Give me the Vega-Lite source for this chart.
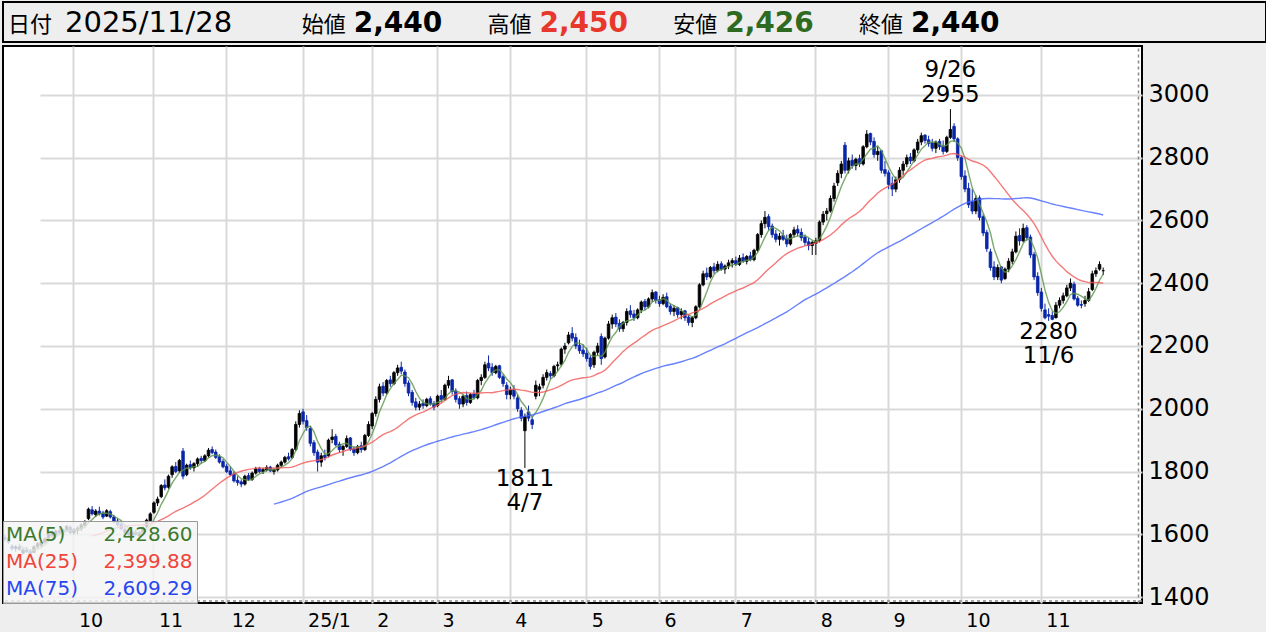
{
"$schema": "https://vega.github.io/schema/vega-lite/v6.json",
"background": "#eeeeee",
"padding": {"left": 1, "top": 1, "right": 2, "bottom": 5},
"spacing": 2,
"resolve": {"scale": {"color": "independent"}, "legend": {"color": "independent"}},
"config": {"view": {"stroke": null}, "font": "DejaVu Sans"},
"datasets": {
"hdr": [
{"k":"date","lab":"日付","val":"2025/11/28"},
{"k":"open","lab":"始値","val":"2,440"},
{"k":"high","lab":"高値","val":"2,450"},
{"k":"low","lab":"安値","val":"2,426"},
{"k":"close","lab":"終値","val":"2,440"}
],
"hi": [{"d":"2025-09-26","v":2955,"t":"9/26\n2955"}],
"lo": [{"d":"2025-04-07","v":1811,"t":"1811\n4/7"},{"d":"2025-11-06","v":2280,"t":"2280\n11/6"}],
"px": [
{"d":"2024-09-02","o":1590,"h":1600,"l":1578,"c":1585},
{"d":"2024-09-03","o":1585,"h":1592,"l":1570,"c":1575},
{"d":"2024-09-04","o":1562,"h":1568,"l":1548,"c":1555},
{"d":"2024-09-05","o":1555,"h":1565,"l":1545,"c":1560},
{"d":"2024-09-06","o":1560,"h":1570,"l":1548,"c":1552},
{"d":"2024-09-09","o":1540,"h":1555,"l":1535,"c":1550},
{"d":"2024-09-10","o":1550,"h":1560,"l":1540,"c":1545},
{"d":"2024-09-11","o":1545,"h":1552,"l":1530,"c":1538},
{"d":"2024-09-12","o":1542,"h":1565,"l":1540,"c":1560},
{"d":"2024-09-13","o":1560,"h":1575,"l":1555,"c":1570},
{"d":"2024-09-17","o":1565,"h":1580,"l":1558,"c":1575},
{"d":"2024-09-18","o":1575,"h":1590,"l":1570,"c":1585},
{"d":"2024-09-19","o":1588,"h":1605,"l":1585,"c":1600},
{"d":"2024-09-20","o":1602,"h":1612,"l":1590,"c":1595},
{"d":"2024-09-24","o":1598,"h":1615,"l":1595,"c":1610},
{"d":"2024-09-25","o":1612,"h":1622,"l":1600,"c":1605},
{"d":"2024-09-26","o":1605,"h":1618,"l":1598,"c":1614},
{"d":"2024-09-27","o":1615,"h":1630,"l":1608,"c":1625},
{"d":"2024-09-30","o":1622,"h":1628,"l":1600,"c":1605},
{"d":"2024-10-01","o":1605,"h":1620,"l":1598,"c":1615},
{"d":"2024-10-02","o":1612,"h":1625,"l":1600,"c":1620},
{"d":"2024-10-03","o":1617,"h":1635,"l":1610,"c":1630},
{"d":"2024-10-04","o":1628,"h":1645,"l":1622,"c":1640},
{"d":"2024-10-07","o":1650,"h":1685,"l":1645,"c":1680},
{"d":"2024-10-08","o":1678,"h":1690,"l":1660,"c":1665},
{"d":"2024-10-09","o":1662,"h":1680,"l":1655,"c":1674},
{"d":"2024-10-10","o":1674,"h":1688,"l":1660,"c":1665},
{"d":"2024-10-11","o":1668,"h":1675,"l":1648,"c":1655},
{"d":"2024-10-15","o":1658,"h":1680,"l":1655,"c":1675},
{"d":"2024-10-16","o":1672,"h":1678,"l":1650,"c":1655},
{"d":"2024-10-17","o":1655,"h":1662,"l":1635,"c":1640},
{"d":"2024-10-18","o":1642,"h":1650,"l":1625,"c":1630},
{"d":"2024-10-21","o":1632,"h":1640,"l":1612,"c":1618},
{"d":"2024-10-22","o":1616,"h":1625,"l":1600,"c":1605},
{"d":"2024-10-23","o":1607,"h":1615,"l":1590,"c":1598},
{"d":"2024-10-24","o":1596,"h":1610,"l":1588,"c":1606},
{"d":"2024-10-25","o":1607,"h":1615,"l":1595,"c":1600},
{"d":"2024-10-28","o":1595,"h":1610,"l":1585,"c":1605},
{"d":"2024-10-29","o":1604,"h":1625,"l":1600,"c":1620},
{"d":"2024-10-30","o":1624,"h":1650,"l":1620,"c":1645},
{"d":"2024-10-31","o":1644,"h":1670,"l":1640,"c":1665},
{"d":"2024-11-01","o":1670,"h":1705,"l":1665,"c":1700},
{"d":"2024-11-05","o":1700,"h":1720,"l":1690,"c":1712},
{"d":"2024-11-06","o":1720,"h":1760,"l":1715,"c":1755},
{"d":"2024-11-07","o":1757,"h":1775,"l":1740,"c":1748},
{"d":"2024-11-08","o":1750,"h":1790,"l":1745,"c":1785},
{"d":"2024-11-11","o":1790,"h":1820,"l":1780,"c":1815},
{"d":"2024-11-12","o":1816,"h":1830,"l":1795,"c":1800},
{"d":"2024-11-13","o":1802,"h":1840,"l":1795,"c":1835},
{"d":"2024-11-14","o":1865,"h":1875,"l":1775,"c":1785},
{"d":"2024-11-15","o":1790,"h":1825,"l":1785,"c":1820},
{"d":"2024-11-18","o":1822,"h":1835,"l":1805,"c":1812},
{"d":"2024-11-19","o":1812,"h":1830,"l":1800,"c":1825},
{"d":"2024-11-20","o":1825,"h":1845,"l":1815,"c":1840},
{"d":"2024-11-21","o":1842,"h":1850,"l":1825,"c":1835},
{"d":"2024-11-22","o":1835,"h":1855,"l":1830,"c":1850},
{"d":"2024-11-25","o":1850,"h":1875,"l":1845,"c":1868},
{"d":"2024-11-26","o":1870,"h":1880,"l":1855,"c":1860},
{"d":"2024-11-27","o":1862,"h":1870,"l":1840,"c":1845},
{"d":"2024-11-28","o":1847,"h":1855,"l":1825,"c":1830},
{"d":"2024-11-29","o":1832,"h":1840,"l":1810,"c":1815},
{"d":"2024-12-02","o":1817,"h":1825,"l":1795,"c":1800},
{"d":"2024-12-03","o":1802,"h":1815,"l":1785,"c":1790},
{"d":"2024-12-04","o":1792,"h":1800,"l":1765,"c":1770},
{"d":"2024-12-05","o":1772,"h":1785,"l":1755,"c":1765},
{"d":"2024-12-06","o":1767,"h":1775,"l":1750,"c":1760},
{"d":"2024-12-09","o":1760,"h":1790,"l":1755,"c":1785},
{"d":"2024-12-10","o":1787,"h":1795,"l":1770,"c":1775},
{"d":"2024-12-11","o":1775,"h":1800,"l":1770,"c":1795},
{"d":"2024-12-12","o":1795,"h":1815,"l":1790,"c":1808},
{"d":"2024-12-13","o":1810,"h":1815,"l":1795,"c":1800},
{"d":"2024-12-16","o":1800,"h":1812,"l":1792,"c":1806},
{"d":"2024-12-17","o":1805,"h":1820,"l":1800,"c":1813},
{"d":"2024-12-18","o":1814,"h":1818,"l":1798,"c":1802},
{"d":"2024-12-19","o":1800,"h":1810,"l":1790,"c":1806},
{"d":"2024-12-20","o":1805,"h":1825,"l":1800,"c":1820},
{"d":"2024-12-23","o":1820,"h":1835,"l":1812,"c":1830},
{"d":"2024-12-24","o":1830,"h":1850,"l":1825,"c":1845},
{"d":"2024-12-25","o":1847,"h":1860,"l":1835,"c":1840},
{"d":"2024-12-26","o":1845,"h":1875,"l":1840,"c":1870},
{"d":"2024-12-27","o":1870,"h":1960,"l":1865,"c":1950},
{"d":"2024-12-30","o":1950,"h":1995,"l":1940,"c":1985},
{"d":"2025-01-06","o":1990,"h":2000,"l":1950,"c":1960},
{"d":"2025-01-07","o":1962,"h":1980,"l":1930,"c":1940},
{"d":"2025-01-08","o":1937,"h":1945,"l":1880,"c":1890},
{"d":"2025-01-09","o":1892,"h":1900,"l":1850,"c":1860},
{"d":"2025-01-10","o":1862,"h":1870,"l":1800,"c":1830},
{"d":"2025-01-14","o":1830,"h":1860,"l":1815,"c":1850},
{"d":"2025-01-15","o":1852,"h":1870,"l":1835,"c":1845},
{"d":"2025-01-16","o":1850,"h":1905,"l":1845,"c":1900},
{"d":"2025-01-17","o":1902,"h":1935,"l":1890,"c":1910},
{"d":"2025-01-20","o":1912,"h":1920,"l":1880,"c":1885},
{"d":"2025-01-21","o":1887,"h":1895,"l":1860,"c":1870},
{"d":"2025-01-22","o":1870,"h":1885,"l":1850,"c":1880},
{"d":"2025-01-23","o":1880,"h":1915,"l":1875,"c":1905},
{"d":"2025-01-24","o":1907,"h":1910,"l":1865,"c":1870},
{"d":"2025-01-27","o":1872,"h":1880,"l":1850,"c":1860},
{"d":"2025-01-28","o":1860,"h":1885,"l":1855,"c":1880},
{"d":"2025-01-29","o":1882,"h":1895,"l":1860,"c":1870},
{"d":"2025-01-30","o":1870,"h":1920,"l":1865,"c":1915},
{"d":"2025-01-31","o":1915,"h":1960,"l":1910,"c":1950},
{"d":"2025-02-03","o":1945,"h":1990,"l":1935,"c":1985},
{"d":"2025-02-04","o":1985,"h":2040,"l":1975,"c":2030},
{"d":"2025-02-05","o":2030,"h":2080,"l":2020,"c":2070},
{"d":"2025-02-06","o":2072,"h":2085,"l":2040,"c":2050},
{"d":"2025-02-07","o":2050,"h":2095,"l":2045,"c":2090},
{"d":"2025-02-10","o":2092,"h":2105,"l":2070,"c":2080},
{"d":"2025-02-12","o":2080,"h":2120,"l":2075,"c":2115},
{"d":"2025-02-13","o":2115,"h":2140,"l":2105,"c":2130},
{"d":"2025-02-14","o":2132,"h":2150,"l":2110,"c":2120},
{"d":"2025-02-17","o":2117,"h":2125,"l":2070,"c":2080},
{"d":"2025-02-18","o":2082,"h":2090,"l":2040,"c":2050},
{"d":"2025-02-19","o":2052,"h":2060,"l":2010,"c":2020},
{"d":"2025-02-20","o":2022,"h":2035,"l":1995,"c":2005},
{"d":"2025-02-21","o":2005,"h":2025,"l":1995,"c":2015},
{"d":"2025-02-25","o":2017,"h":2030,"l":2000,"c":2010},
{"d":"2025-02-26","o":2010,"h":2035,"l":2005,"c":2030},
{"d":"2025-02-27","o":2032,"h":2040,"l":2010,"c":2015},
{"d":"2025-02-28","o":2017,"h":2025,"l":1995,"c":2005},
{"d":"2025-03-03","o":2010,"h":2045,"l":2005,"c":2040},
{"d":"2025-03-04","o":2042,"h":2060,"l":2020,"c":2030},
{"d":"2025-03-05","o":2030,"h":2080,"l":2025,"c":2075},
{"d":"2025-03-06","o":2075,"h":2105,"l":2065,"c":2090},
{"d":"2025-03-07","o":2092,"h":2095,"l":2045,"c":2055},
{"d":"2025-03-10","o":2057,"h":2065,"l":2020,"c":2030},
{"d":"2025-03-11","o":2032,"h":2040,"l":2000,"c":2015},
{"d":"2025-03-12","o":2015,"h":2045,"l":2005,"c":2040},
{"d":"2025-03-13","o":2042,"h":2055,"l":2010,"c":2020},
{"d":"2025-03-14","o":2020,"h":2050,"l":2015,"c":2045},
{"d":"2025-03-17","o":2047,"h":2060,"l":2030,"c":2035},
{"d":"2025-03-18","o":2035,"h":2095,"l":2030,"c":2090},
{"d":"2025-03-19","o":2090,"h":2110,"l":2075,"c":2100},
{"d":"2025-03-21","o":2100,"h":2150,"l":2095,"c":2140},
{"d":"2025-03-24","o":2145,"h":2170,"l":2120,"c":2130},
{"d":"2025-03-25","o":2132,"h":2145,"l":2105,"c":2115},
{"d":"2025-03-26","o":2115,"h":2140,"l":2110,"c":2135},
{"d":"2025-03-27","o":2137,"h":2140,"l":2095,"c":2100},
{"d":"2025-03-28","o":2102,"h":2110,"l":2070,"c":2080},
{"d":"2025-03-31","o":2075,"h":2085,"l":2030,"c":2045},
{"d":"2025-04-01","o":2045,"h":2070,"l":2030,"c":2060},
{"d":"2025-04-02","o":2062,"h":2075,"l":2030,"c":2040},
{"d":"2025-04-03","o":2035,"h":2045,"l":1990,"c":2000},
{"d":"2025-04-04","o":1995,"h":2005,"l":1960,"c":1970},
{"d":"2025-04-07","o":1930,"h":1985,"l":1811,"c":1975},
{"d":"2025-04-08","o":1990,"h":2010,"l":1960,"c":1970},
{"d":"2025-04-09","o":1965,"h":1975,"l":1935,"c":1950},
{"d":"2025-04-10","o":2040,"h":2090,"l":2030,"c":2075},
{"d":"2025-04-11","o":2062,"h":2080,"l":2040,"c":2070},
{"d":"2025-04-14","o":2075,"h":2110,"l":2065,"c":2100},
{"d":"2025-04-15","o":2100,"h":2125,"l":2090,"c":2115},
{"d":"2025-04-16","o":2112,"h":2120,"l":2095,"c":2105},
{"d":"2025-04-17","o":2105,"h":2140,"l":2100,"c":2135},
{"d":"2025-04-18","o":2137,"h":2150,"l":2120,"c":2140},
{"d":"2025-04-21","o":2142,"h":2195,"l":2135,"c":2190},
{"d":"2025-04-22","o":2190,"h":2210,"l":2175,"c":2200},
{"d":"2025-04-23","o":2210,"h":2245,"l":2205,"c":2235},
{"d":"2025-04-24","o":2240,"h":2260,"l":2215,"c":2225},
{"d":"2025-04-25","o":2227,"h":2240,"l":2190,"c":2200},
{"d":"2025-04-28","o":2202,"h":2220,"l":2175,"c":2185},
{"d":"2025-04-30","o":2187,"h":2205,"l":2165,"c":2175},
{"d":"2025-05-01","o":2177,"h":2195,"l":2150,"c":2160},
{"d":"2025-05-02","o":2162,"h":2170,"l":2125,"c":2135},
{"d":"2025-05-07","o":2140,"h":2185,"l":2130,"c":2180},
{"d":"2025-05-08","o":2180,"h":2210,"l":2170,"c":2200},
{"d":"2025-05-09","o":2230,"h":2240,"l":2140,"c":2160},
{"d":"2025-05-12","o":2165,"h":2230,"l":2160,"c":2225},
{"d":"2025-05-13","o":2225,"h":2280,"l":2220,"c":2270},
{"d":"2025-05-14","o":2270,"h":2300,"l":2255,"c":2290},
{"d":"2025-05-15","o":2292,"h":2305,"l":2260,"c":2270},
{"d":"2025-05-16","o":2272,"h":2285,"l":2245,"c":2255},
{"d":"2025-05-19","o":2255,"h":2280,"l":2245,"c":2275},
{"d":"2025-05-20","o":2275,"h":2320,"l":2265,"c":2310},
{"d":"2025-05-21","o":2312,"h":2330,"l":2290,"c":2300},
{"d":"2025-05-22","o":2302,"h":2315,"l":2280,"c":2290},
{"d":"2025-05-23","o":2290,"h":2320,"l":2285,"c":2315},
{"d":"2025-05-26","o":2315,"h":2345,"l":2305,"c":2340},
{"d":"2025-05-27","o":2342,"h":2350,"l":2315,"c":2325},
{"d":"2025-05-28","o":2325,"h":2355,"l":2320,"c":2350},
{"d":"2025-05-29","o":2350,"h":2380,"l":2340,"c":2370},
{"d":"2025-05-30","o":2372,"h":2375,"l":2335,"c":2345},
{"d":"2025-06-02","o":2347,"h":2360,"l":2325,"c":2335},
{"d":"2025-06-03","o":2335,"h":2365,"l":2330,"c":2355},
{"d":"2025-06-04","o":2357,"h":2370,"l":2320,"c":2325},
{"d":"2025-06-05","o":2327,"h":2335,"l":2300,"c":2310},
{"d":"2025-06-06","o":2310,"h":2330,"l":2295,"c":2320},
{"d":"2025-06-09","o":2322,"h":2325,"l":2290,"c":2300},
{"d":"2025-06-10","o":2300,"h":2320,"l":2285,"c":2310},
{"d":"2025-06-11","o":2312,"h":2315,"l":2280,"c":2290},
{"d":"2025-06-12","o":2292,"h":2300,"l":2265,"c":2275},
{"d":"2025-06-13","o":2275,"h":2295,"l":2260,"c":2290},
{"d":"2025-06-16","o":2290,"h":2330,"l":2285,"c":2325},
{"d":"2025-06-17","o":2325,"h":2400,"l":2320,"c":2395},
{"d":"2025-06-18","o":2395,"h":2440,"l":2390,"c":2430},
{"d":"2025-06-19","o":2432,"h":2450,"l":2410,"c":2420},
{"d":"2025-06-20","o":2420,"h":2455,"l":2415,"c":2450},
{"d":"2025-06-23","o":2452,"h":2465,"l":2430,"c":2440},
{"d":"2025-06-24","o":2440,"h":2470,"l":2435,"c":2460},
{"d":"2025-06-25","o":2462,"h":2470,"l":2440,"c":2445},
{"d":"2025-06-26","o":2445,"h":2460,"l":2430,"c":2455},
{"d":"2025-06-27","o":2455,"h":2475,"l":2445,"c":2465},
{"d":"2025-06-30","o":2465,"h":2480,"l":2450,"c":2472},
{"d":"2025-07-01","o":2472,"h":2485,"l":2455,"c":2460},
{"d":"2025-07-02","o":2460,"h":2490,"l":2455,"c":2480},
{"d":"2025-07-03","o":2482,"h":2495,"l":2465,"c":2470},
{"d":"2025-07-04","o":2470,"h":2490,"l":2460,"c":2485},
{"d":"2025-07-07","o":2487,"h":2500,"l":2470,"c":2475},
{"d":"2025-07-08","o":2475,"h":2510,"l":2470,"c":2505},
{"d":"2025-07-09","o":2505,"h":2560,"l":2500,"c":2555},
{"d":"2025-07-10","o":2555,"h":2600,"l":2545,"c":2590},
{"d":"2025-07-11","o":2590,"h":2630,"l":2575,"c":2610},
{"d":"2025-07-14","o":2612,"h":2620,"l":2570,"c":2580},
{"d":"2025-07-15","o":2582,"h":2590,"l":2545,"c":2555},
{"d":"2025-07-16","o":2557,"h":2570,"l":2530,"c":2540},
{"d":"2025-07-17","o":2540,"h":2560,"l":2520,"c":2550},
{"d":"2025-07-18","o":2552,"h":2570,"l":2535,"c":2540},
{"d":"2025-07-22","o":2542,"h":2555,"l":2515,"c":2525},
{"d":"2025-07-23","o":2525,"h":2560,"l":2520,"c":2555},
{"d":"2025-07-24","o":2555,"h":2580,"l":2545,"c":2570},
{"d":"2025-07-25","o":2572,"h":2585,"l":2550,"c":2560},
{"d":"2025-07-28","o":2562,"h":2575,"l":2535,"c":2545},
{"d":"2025-07-29","o":2547,"h":2555,"l":2520,"c":2530},
{"d":"2025-07-30","o":2532,"h":2545,"l":2505,"c":2520},
{"d":"2025-07-31","o":2520,"h":2535,"l":2490,"c":2530},
{"d":"2025-08-01","o":2527,"h":2545,"l":2490,"c":2535},
{"d":"2025-08-04","o":2535,"h":2600,"l":2530,"c":2595},
{"d":"2025-08-05","o":2595,"h":2630,"l":2585,"c":2620},
{"d":"2025-08-06","o":2622,"h":2640,"l":2600,"c":2630},
{"d":"2025-08-07","o":2630,"h":2680,"l":2625,"c":2670},
{"d":"2025-08-08","o":2670,"h":2720,"l":2660,"c":2710},
{"d":"2025-08-12","o":2720,"h":2760,"l":2710,"c":2750},
{"d":"2025-08-13","o":2750,"h":2790,"l":2735,"c":2780},
{"d":"2025-08-14","o":2840,"h":2850,"l":2750,"c":2760},
{"d":"2025-08-15","o":2760,"h":2800,"l":2750,"c":2790},
{"d":"2025-08-18","o":2792,"h":2810,"l":2765,"c":2775},
{"d":"2025-08-19","o":2775,"h":2800,"l":2760,"c":2795},
{"d":"2025-08-20","o":2797,"h":2810,"l":2770,"c":2780},
{"d":"2025-08-21","o":2780,"h":2840,"l":2775,"c":2835},
{"d":"2025-08-22","o":2835,"h":2888,"l":2830,"c":2875},
{"d":"2025-08-25","o":2877,"h":2880,"l":2840,"c":2850},
{"d":"2025-08-26","o":2852,"h":2865,"l":2800,"c":2810},
{"d":"2025-08-27","o":2810,"h":2835,"l":2790,"c":2820},
{"d":"2025-08-28","o":2822,"h":2825,"l":2750,"c":2760},
{"d":"2025-08-29","o":2762,"h":2790,"l":2740,"c":2750},
{"d":"2025-09-01","o":2752,"h":2760,"l":2700,"c":2715},
{"d":"2025-09-02","o":2717,"h":2740,"l":2678,"c":2700},
{"d":"2025-09-03","o":2700,"h":2740,"l":2690,"c":2730},
{"d":"2025-09-04","o":2730,"h":2770,"l":2720,"c":2760},
{"d":"2025-09-05","o":2760,"h":2790,"l":2745,"c":2780},
{"d":"2025-09-08","o":2780,"h":2810,"l":2770,"c":2800},
{"d":"2025-09-09","o":2802,"h":2815,"l":2780,"c":2790},
{"d":"2025-09-10","o":2790,"h":2830,"l":2785,"c":2825},
{"d":"2025-09-11","o":2825,"h":2860,"l":2815,"c":2850},
{"d":"2025-09-12","o":2850,"h":2880,"l":2840,"c":2870},
{"d":"2025-09-16","o":2872,"h":2875,"l":2845,"c":2855},
{"d":"2025-09-17","o":2857,"h":2870,"l":2835,"c":2845},
{"d":"2025-09-18","o":2847,"h":2860,"l":2820,"c":2830},
{"d":"2025-09-19","o":2830,"h":2855,"l":2815,"c":2850},
{"d":"2025-09-22","o":2852,"h":2860,"l":2825,"c":2835},
{"d":"2025-09-24","o":2837,"h":2855,"l":2810,"c":2820},
{"d":"2025-09-25","o":2820,"h":2870,"l":2815,"c":2865},
{"d":"2025-09-26","o":2865,"h":2955,"l":2860,"c":2890},
{"d":"2025-09-29","o":2900,"h":2910,"l":2850,"c":2860},
{"d":"2025-09-30","o":2860,"h":2865,"l":2790,"c":2800},
{"d":"2025-10-01","o":2800,"h":2805,"l":2730,"c":2740},
{"d":"2025-10-02","o":2742,"h":2760,"l":2690,"c":2700},
{"d":"2025-10-03","o":2702,"h":2720,"l":2640,"c":2650},
{"d":"2025-10-06","o":2660,"h":2700,"l":2620,"c":2630},
{"d":"2025-10-07","o":2630,"h":2680,"l":2620,"c":2670},
{"d":"2025-10-08","o":2672,"h":2680,"l":2600,"c":2610},
{"d":"2025-10-09","o":2612,"h":2620,"l":2550,"c":2560},
{"d":"2025-10-10","o":2562,"h":2570,"l":2500,"c":2510},
{"d":"2025-10-14","o":2500,"h":2510,"l":2440,"c":2450},
{"d":"2025-10-15","o":2452,"h":2470,"l":2410,"c":2420},
{"d":"2025-10-16","o":2420,"h":2460,"l":2410,"c":2450},
{"d":"2025-10-17","o":2452,"h":2455,"l":2400,"c":2410},
{"d":"2025-10-20","o":2415,"h":2450,"l":2410,"c":2445},
{"d":"2025-10-21","o":2445,"h":2480,"l":2435,"c":2470},
{"d":"2025-10-22","o":2470,"h":2510,"l":2460,"c":2500},
{"d":"2025-10-23","o":2500,"h":2565,"l":2495,"c":2550},
{"d":"2025-10-24","o":2552,"h":2575,"l":2520,"c":2535},
{"d":"2025-10-27","o":2535,"h":2590,"l":2530,"c":2575},
{"d":"2025-10-28","o":2577,"h":2585,"l":2535,"c":2545},
{"d":"2025-10-29","o":2547,"h":2555,"l":2480,"c":2490},
{"d":"2025-10-30","o":2492,"h":2500,"l":2410,"c":2420},
{"d":"2025-10-31","o":2422,"h":2435,"l":2360,"c":2370},
{"d":"2025-11-04","o":2372,"h":2385,"l":2310,"c":2320},
{"d":"2025-11-05","o":2315,"h":2335,"l":2285,"c":2290},
{"d":"2025-11-06","o":2300,"h":2320,"l":2280,"c":2295},
{"d":"2025-11-07","o":2297,"h":2310,"l":2282,"c":2285},
{"d":"2025-11-10","o":2290,"h":2340,"l":2288,"c":2330},
{"d":"2025-11-11","o":2330,"h":2355,"l":2320,"c":2345},
{"d":"2025-11-12","o":2345,"h":2370,"l":2335,"c":2360},
{"d":"2025-11-13","o":2360,"h":2395,"l":2355,"c":2385},
{"d":"2025-11-14","o":2385,"h":2415,"l":2375,"c":2400},
{"d":"2025-11-17","o":2397,"h":2405,"l":2345,"c":2350},
{"d":"2025-11-18","o":2352,"h":2360,"l":2325,"c":2330},
{"d":"2025-11-19","o":2332,"h":2345,"l":2320,"c":2330},
{"d":"2025-11-20","o":2335,"h":2360,"l":2325,"c":2345},
{"d":"2025-11-21","o":2345,"h":2385,"l":2340,"c":2373},
{"d":"2025-11-25","o":2380,"h":2440,"l":2375,"c":2430},
{"d":"2025-11-26","o":2430,"h":2450,"l":2420,"c":2440},
{"d":"2025-11-27","o":2445,"h":2470,"l":2440,"c":2460},
{"d":"2025-11-28","o":2440,"h":2450,"l":2426,"c":2440}
]
},
"vconcat": [
{
"width": 1263,
"height": 40,
"view": {"fill": "#eeeeee", "stroke": "#000000", "strokeWidth": 2},
"data": {"name": "hdr"},
"encoding": {
"x": {"field": "k", "type": "nominal", "scale": {"type": "point", "domain": ["date","open","high","low","close"], "range": [113, 856], "padding": 0}, "axis": null}
},
"layer": [
{"transform": [{"filter": "datum.k == 'date'"}],
 "mark": {"type": "text", "align": "right", "baseline": "alphabetic", "dx": -64, "dy": 10, "font": "Noto Sans CJK JP", "fontSize": 22, "color": "#000000"},
 "encoding": {"text": {"field": "lab", "type": "nominal"}}},
{"transform": [{"filter": "datum.k == 'date'"}],
 "mark": {"type": "text", "align": "left", "baseline": "alphabetic", "dx": -51, "dy": 10, "font": "DejaVu Sans", "fontSize": 29, "color": "#000000"},
 "encoding": {"text": {"field": "val", "type": "nominal"}}},
{"transform": [{"filter": "datum.k != 'date'"}],
 "mark": {"type": "text", "align": "left", "baseline": "alphabetic", "dy": 10, "font": "Noto Sans CJK JP", "fontSize": 22, "color": "#000000"},
 "encoding": {"text": {"field": "lab", "type": "nominal"}}},
{"transform": [{"filter": "datum.k == 'open' || datum.k == 'close'"}],
 "mark": {"type": "text", "align": "left", "baseline": "alphabetic", "dx": 52, "dy": 10, "font": "DejaVu Sans", "fontSize": 28, "fontWeight": "bold", "color": "#000000"},
 "encoding": {"text": {"field": "val", "type": "nominal"}}},
{"transform": [{"filter": "datum.k == 'high'"}],
 "mark": {"type": "text", "align": "left", "baseline": "alphabetic", "dx": 52, "dy": 10, "font": "DejaVu Sans", "fontSize": 28, "fontWeight": "bold", "color": "#e8382b"},
 "encoding": {"text": {"field": "val", "type": "nominal"}}},
{"transform": [{"filter": "datum.k == 'low'"}],
 "mark": {"type": "text", "align": "left", "baseline": "alphabetic", "dx": 52, "dy": 10, "font": "DejaVu Sans", "fontSize": 28, "fontWeight": "bold", "color": "#2e6a1f"},
 "encoding": {"text": {"field": "val", "type": "nominal"}}}
]
},
{
"width": 1139,
"height": 557,
"view": {"fill": "#ffffff", "stroke": "#000000", "strokeWidth": 2},
"data": {"name": "px"},
"layer": [
{"mark": {"type": "rule", "strokeWidth": 1},
 "encoding": {
  "x": {"field": "d", "type": "ordinal", "scale": {"type": "band", "paddingInner": 0, "paddingOuter": 0, "range": [0, 1102]},
    "axis": {"title": null, "values": ["2024-10-01","2024-11-01","2024-12-02","2025-01-06","2025-02-03","2025-03-03","2025-04-01","2025-05-01","2025-06-02","2025-07-01","2025-08-01","2025-09-01","2025-10-01","2025-11-04"],
      "labelExpr": "datum.value == '2025-01-06' ? '25/1' : '' + toNumber(slice(datum.value, 5, 7))",
      "grid": true, "gridColor": "#d9d9d9", "gridWidth": 2, "ticks": false, "domain": false,
      "labelAlign": "left", "labelOffset": 5, "labelPadding": 8, "labelBaseline": "top", "labelAngle": 0,
      "labelFont": "DejaVu Sans", "labelFontSize": 19, "labelColor": "#000000", "labelOverlap": false, "labelFlush": false, "labelBound": false}},
  "y": {"field": "l", "type": "quantitative", "scale": {"domain": [1381, 3156], "nice": false, "zero": false},
    "axis": {"title": null, "orient": "right", "values": [1400,1600,1800,2000,2200,2400,2600,2800,3000], "format": "d",
      "grid": true, "gridColor": "#d9d9d9", "gridWidth": 2, "ticks": false,
      "domain": true, "domainColor": "#888888", "domainDash": [3,3], "domainWidth": 1.5, "offset": -4,
      "labelPadding": 10, "labelFont": "DejaVu Sans", "labelFontSize": 24, "labelColor": "#000000", "labelOverlap": false, "labelFlush": false, "labelBound": false}},
  "y2": {"field": "h"},
  "color": {"condition": {"test": "datum.c < datum.o", "value": "#0a26a8"}, "value": "#000000"}
 }},
{"mark": {"type": "bar", "size": 2.6, "strokeWidth": 0.8},
 "encoding": {
  "x": {"field": "d", "type": "ordinal"},
  "y": {"field": "o", "type": "quantitative"},
  "y2": {"field": "c"},
  "fill": {"condition": {"test": "datum.c < datum.o", "value": "#0a26a8"}, "value": "#000000"},
  "stroke": {"condition": {"test": "datum.c < datum.o", "value": "#0a26a8"}, "value": "#000000"}
 }},
{"transform": [
  {"window": [{"op": "mean", "field": "c", "as": "MA(5)"}, {"op": "row_number", "as": "n"}], "frame": [-4, 0], "sort": [{"field": "d"}]},
  {"window": [{"op": "mean", "field": "c", "as": "MA(25)"}], "frame": [-24, 0], "sort": [{"field": "d"}]},
  {"window": [{"op": "mean", "field": "c", "as": "MA(75)"}], "frame": [-74, 0], "sort": [{"field": "d"}]},
  {"fold": ["MA(5)", "MA(25)", "MA(75)"], "as": ["k", "v"]},
  {"filter": "(datum.k == 'MA(5)' && datum.n >= 5) || (datum.k == 'MA(25)' && datum.n >= 25) || (datum.k == 'MA(75)' && datum.n >= 75)"}
 ],
 "mark": {"type": "line", "strokeWidth": 1.4, "opacity": 0.8},
 "encoding": {
  "x": {"field": "d", "type": "ordinal"},
  "y": {"field": "v", "type": "quantitative"},
  "color": {"field": "k", "type": "nominal",
    "scale": {"domain": ["MA(5)", "MA(25)", "MA(75)"], "range": ["#5a9548", "#f25858", "#4262ff"]},
    "legend": {"orient": "bottom-left", "title": null, "offset": 0, "padding": 4,
      "fillColor": "rgba(244,244,244,0.82)", "strokeColor": "#999999",
      "symbolType": "circle", "symbolSize": 0, "symbolStrokeWidth": 0, "symbolOpacity": 0, "labelOffset": -21,
      "labelFont": "DejaVu Sans", "labelFontSize": 20, "labelLimit": 400, "rowPadding": 7,
      "labelExpr": "datum.label == 'MA(5)' ? 'MA(5)\u00a0\u00a0\u00a0\u00a0\u00a0\u00a02,428.60' : datum.label == 'MA(25)' ? 'MA(25)\u00a0\u00a0\u00a0\u00a02,399.88' : 'MA(75)\u00a0\u00a0\u00a0\u00a02,609.29'",
      "labelColor": {"expr": "datum.label == 'MA(5)' ? '#3b7a2d' : datum.label == 'MA(25)' ? '#f0443a' : '#2847f0'"}}}
 }},
{"data": {"values": [{}]},
 "mark": {"type": "rule", "strokeDash": [3, 3], "color": "#888888", "strokeWidth": 1.5},
 "encoding": {"y": {"datum": 1387}}},
{"data": {"name": "hi"},
 "mark": {"type": "text", "align": "center", "baseline": "bottom", "dy": -27, "font": "DejaVu Sans", "fontSize": 23, "lineHeight": 25, "lineBreak": "\n", "color": "#000000"},
 "encoding": {"x": {"field": "d", "type": "ordinal"}, "y": {"field": "v", "type": "quantitative"}, "text": {"field": "t", "type": "nominal"}}},
{"data": {"name": "lo"},
 "mark": {"type": "text", "align": "center", "baseline": "top", "dy": 0, "font": "DejaVu Sans", "fontSize": 23, "lineHeight": 24, "lineBreak": "\n", "color": "#000000"},
 "encoding": {"x": {"field": "d", "type": "ordinal"}, "y": {"field": "v", "type": "quantitative"}, "text": {"field": "t", "type": "nominal"}}}
]
}
]
}
